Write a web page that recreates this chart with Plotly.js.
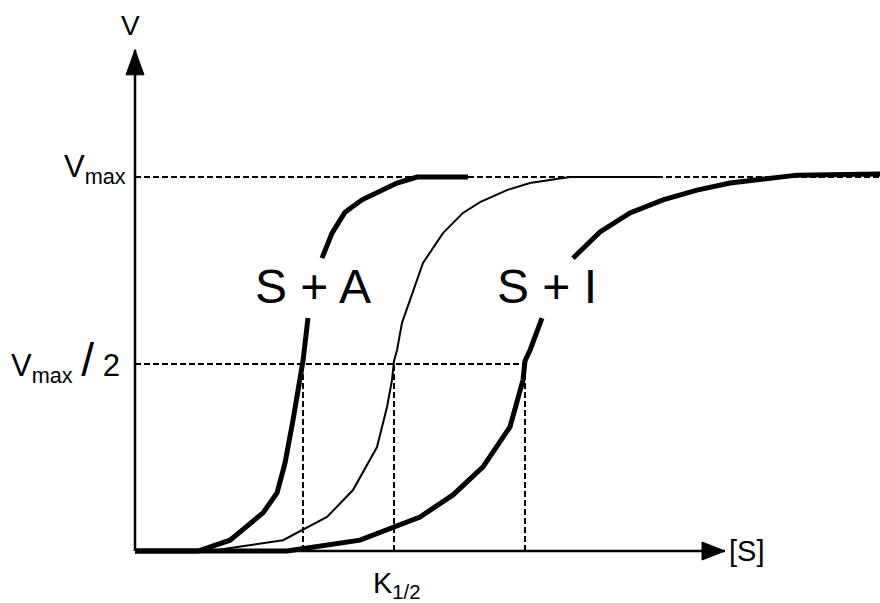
<!DOCTYPE html>
<html>
<head>
<meta charset="utf-8">
<script src="https://cdn.plot.ly/plotly-3.0.1.min.js"></script>
<style>html,body{margin:0;padding:0;background:#fff;}#chart{width:880px;height:603px;}</style>
</head>
<body>
<div id="chart"></div>
<script>
// Substrate concentration [S] (arbitrary units) and velocity V (fraction of Vmax)
// Curve "S + A" (activator) – thick
const sA = [0, 0.63, 0.95, 1.28, 1.42, 1.50, 1.58, 1.63, 1.68, 1.73, null, 1.87, 1.97, 2.10, 2.27, 2.62, 2.82, 3.33];
const vA = [0, 0, 0.029, 0.102, 0.155, 0.235, 0.350, 0.430, 0.508, 0.623, null, 0.783, 0.850, 0.906, 0.939, 0.984, 1.0, 1.0];
// Curve "S" (no effector) – thin
const s0 = [0, 0.75, 1.48, 1.92, 2.18, 2.42, 2.52, 2.57, 2.59, 2.62, 2.67, 2.88, 3.08, 3.28, 3.45, 3.72, 3.95, 4.35, 5.22];
const v0 = [0, 0, 0.029, 0.091, 0.163, 0.278, 0.385, 0.457, 0.508, 0.537, 0.610, 0.770, 0.850, 0.904, 0.933, 0.965, 0.984, 1.0, 1.0];
// Curve "S + I" (inhibitor) – thick
const sI = [0, 1.52, 2.25, 2.85, 3.18, 3.48, 3.75, 3.88, 3.90, 3.95, 4.07, null, 4.38, 4.65, 4.95, 5.28, 5.62, 5.95, 6.62, 7.22, 7.35, 7.45];
const vI = [0, 0, 0.029, 0.091, 0.150, 0.225, 0.332, 0.457, 0.508, 0.537, 0.623, null, 0.783, 0.853, 0.904, 0.939, 0.965, 0.984, 1.005, 1.005, 1.008, 1.008];
// K1/2 values for the three curves
const kHalf = [1.68, 2.59, 3.90];
const vMax = 1.0;
// Axis extents
const xAxisEnd = 5.90;
const yAxisEnd = 1.34;
const xRange = [-1.35, 7.45];
const yRange = [-0.139, 1.4733];

const FONT = 'Liberation Sans, Arial, sans-serif';

const traces = [
  {x: sA, y: vA, mode: 'lines', line: {color: '#000', width: 5}, connectgaps: false, hoverinfo: 'skip'},
  {x: s0, y: v0, mode: 'lines', line: {color: '#000', width: 2}, connectgaps: false, hoverinfo: 'skip'},
  {x: sI, y: vI, mode: 'lines', line: {color: '#000', width: 5}, connectgaps: false, hoverinfo: 'skip'}
];

const dash = '6px,3px';
const dl = {color: '#000', width: 2, dash: dash};
const shapes = [];
// Vmax dashed line
shapes.push({type: 'line', xref: 'x', yref: 'y', x0: 0, x1: xRange[1], y0: vMax, y1: vMax, line: dl, layer: 'below'});
// Vmax/2 dashed line
shapes.push({type: 'line', xref: 'x', yref: 'y', x0: 0, x1: kHalf[2], y0: vMax / 2, y1: vMax / 2, line: dl, layer: 'below'});
// vertical dashed lines at K1/2
kHalf.forEach(k => shapes.push({type: 'line', xref: 'x', yref: 'y', x0: k, x1: k, y0: 0, y1: vMax / 2, line: dl, layer: 'below'}));
// axis lines
shapes.push({type: 'line', xref: 'x', yref: 'y', x0: 0, x1: xAxisEnd, y0: 0, y1: 0, line: {color: '#000', width: 2.5}});
shapes.push({type: 'line', xref: 'x', yref: 'y', x0: 0, x1: 0, y0: 0, y1: yAxisEnd, line: {color: '#000', width: 2.5}});
// arrow heads (pixel-sized, anchored at axis ends)
shapes.push({type: 'path', xref: 'x', yref: 'y', xsizemode: 'pixel', ysizemode: 'pixel', xanchor: xAxisEnd, yanchor: 0,
  path: 'M0,0 L-23,9 L-23,-9 Z', fillcolor: '#000', line: {color: '#000', width: 1}});
shapes.push({type: 'path', xref: 'x', yref: 'y', xsizemode: 'pixel', ysizemode: 'pixel', xanchor: 0, yanchor: yAxisEnd,
  path: 'M0,0 L-9,-25 L9,-25 Z', fillcolor: '#000', line: {color: '#000', width: 1}});

const ann = (x, y, text, size, xanchor, yanchor) => ({x, y, xref: 'x', yref: 'y', text, showarrow: false,
  font: {family: FONT, size, color: '#000'}, xanchor: xanchor || 'center', yanchor: yanchor || 'middle'});

const annotations = [
  ann(-0.05, 1.406, 'V', 28),
  ann(-0.07, vMax + 0.022, 'V<sub>max</sub>', 31, 'right', 'middle'),
  ann(-0.13, vMax / 2 + 0.008, 'V<sub>max</sub> <span style="font-size:46px">/</span> 2', 31, 'right', 'middle'),
  ann(5.92, 0, '[S]', 29, 'left', 'middle'),
  ann(2.62, -0.09, 'K<sub>1/2</sub>', 29),
  ann(1.78, 0.706, 'S + A', 48),
  ann(4.12, 0.706, 'S + I', 48)
];

const layout = {
  width: 880, height: 603,
  margin: {l: 0, r: 0, t: 0, b: 0},
  paper_bgcolor: '#fff', plot_bgcolor: '#fff',
  showlegend: false,
  xaxis: {range: xRange, visible: false, fixedrange: true},
  yaxis: {range: yRange, visible: false, fixedrange: true},
  shapes, annotations,
  font: {family: FONT}
};

Plotly.newPlot('chart', traces, layout, {displayModeBar: false, staticPlot: true});
</script>
</body>
</html>
